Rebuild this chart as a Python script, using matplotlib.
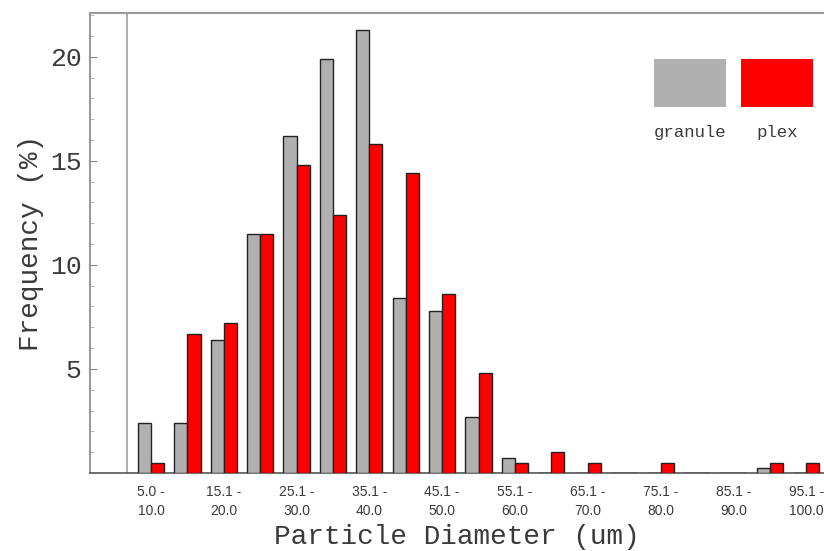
import numpy as np
import matplotlib
matplotlib.use("Agg")
import matplotlib.pyplot as plt
from matplotlib.patches import Rectangle

# ---- data ----
bins = ["5.0 -\n10.0", "10.1 -\n15.0", "15.1 -\n20.0", "20.1 -\n25.0", "25.1 -\n30.0",
        "30.1 -\n35.0", "35.1 -\n40.0", "40.1 -\n45.0", "45.1 -\n50.0", "50.1 -\n55.0",
        "55.1 -\n60.0", "60.1 -\n65.0", "65.1 -\n70.0", "70.1 -\n75.0", "75.1 -\n80.0",
        "80.1 -\n85.0", "85.1 -\n90.0", "90.1 -\n95.0", "95.1 -\n100.0"]
granule = [2.4, 2.4, 6.4, 11.5, 16.2, 19.9, 21.3, 8.4, 7.8, 2.7,
           0.7, 0.0, 0.0, 0.0, 0.0, 0.0, 0.0, 0.25, 0.0]
plex = [0.5, 6.7, 7.2, 11.5, 14.8, 12.4, 15.8, 14.4, 8.6, 4.8,
        0.5, 1.0, 0.5, 0.0, 0.5, 0.0, 0.0, 0.5, 0.5]
series_names = ["granule", "plex"]
series_colors = ["#b0b0b0", "#ff0000"]

MONO = ["Liberation Mono", "DejaVu Sans Mono"]
SANS = ["Liberation Sans", "DejaVu Sans"]
TXT = "#3a3a3a"

fig = plt.figure(figsize=(8.24, 5.51), dpi=100)
ax = fig.add_axes([90/824, 78/551, 1 - 90/824, (473-13)/551])

x = np.arange(len(bins))
w = 0.36
ax.bar(x - w/2, granule, w, color=series_colors[0], edgecolor="#222222", lw=1.0, zorder=3)
ax.bar(x + w/2, plex, w, color=series_colors[1], edgecolor="#222222", lw=1.0, zorder=3)

ax.set_xlim(-1.676, 18.49)
ax.set_ylim(0, 22.1)
ax.axvline(-0.66, color="#a0a0a0", lw=1.2, zorder=1)

# spines
for s in ["left", "top"]:
    ax.spines[s].set_color("#9a9a9a"); ax.spines[s].set_linewidth(1.5)
ax.spines["bottom"].set_color("#555555"); ax.spines["bottom"].set_linewidth(1.2)
ax.spines["right"].set_visible(False)

# y ticks (inward, minor every 1 unit)
ax.set_yticks([5, 10, 15, 20])
ax.set_yticks(np.arange(1, 23), minor=True)
ax.tick_params(axis="y", which="major", direction="in", length=5, color="#888888", pad=6)
ax.tick_params(axis="y", which="minor", direction="in", length=3, color="#aaaaaa")
for t in ax.get_yticklabels():
    t.set_fontfamily(MONO); t.set_fontsize(19); t.set_color(TXT)

# x tick labels on every other bin
ax.set_xticks(x[::2])
ax.set_xticklabels(bins[::2], fontfamily=SANS, fontsize=10, color=TXT, linespacing=1.45)
ax.tick_params(axis="x", length=0, pad=9)

ax.set_ylabel("Frequency (%)", fontfamily=MONO, fontsize=20, color=TXT, labelpad=4)
ax.set_xlabel("Particle Diameter (um)", fontfamily=MONO, fontsize=20, color=TXT, labelpad=4)

# legend: two colour blocks with labels below
for i, (name, col) in enumerate(zip(series_names, series_colors)):
    x0 = (654 + 87*i) / 824
    fig.patches.append(Rectangle((x0, 1 - 107/551), 72/824, 48/551, transform=fig.transFigure,
                                 facecolor=col, edgecolor="none"))
    fig.text(x0 + 36/824, 1 - 132/551, name, ha="center", va="center",
             fontfamily=MONO, fontsize=12.5, color=TXT)

fig.savefig("out.png", dpi=100)
